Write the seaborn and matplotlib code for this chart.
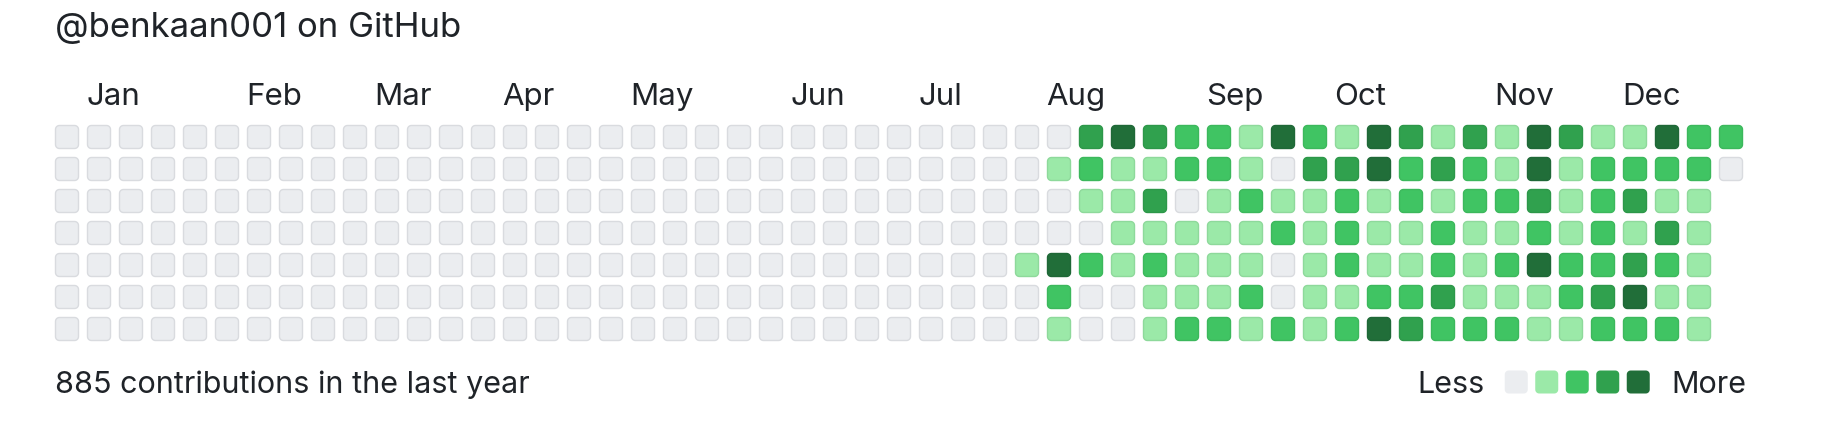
import numpy as np
import pandas as pd
import matplotlib
matplotlib.use("Agg")
import matplotlib.pyplot as plt
from matplotlib.path import Path
import seaborn as sns

# contribution levels (0-4), one list per weekday row, 53 weeks; weeks 0-29 are empty
row_sun = [0] * 30 + [0, 0, 3, 4, 3, 2, 2, 1, 4, 2, 1, 4, 3, 1, 3, 1, 4, 3, 1, 1, 4, 2, 2]
row_mon = [0] * 30 + [0, 1, 2, 1, 1, 2, 2, 1, 0, 3, 3, 4, 2, 3, 2, 1, 4, 1, 2, 2, 2, 2, 0]
row_tue = [0] * 30 + [0, 0, 1, 1, 3, 0, 1, 2, 1, 1, 2, 1, 2, 1, 2, 2, 3, 1, 2, 3, 1, 1]
row_wed = [0] * 30 + [0, 0, 0, 1, 1, 1, 1, 1, 2, 1, 2, 1, 1, 2, 1, 1, 2, 1, 2, 1, 3, 1]
row_thu = [0] * 30 + [1, 4, 2, 1, 2, 1, 1, 1, 0, 1, 2, 1, 1, 2, 1, 2, 4, 2, 2, 3, 2, 1]
row_fri = [0] * 30 + [0, 2, 0, 0, 1, 1, 1, 2, 0, 1, 1, 2, 2, 3, 1, 1, 1, 2, 3, 4, 1, 1]
row_sat = [0] * 30 + [0, 1, 0, 0, 1, 2, 2, 1, 2, 1, 2, 4, 3, 2, 2, 2, 1, 1, 2, 2, 2, 1]
rows = [row_sun, row_mon, row_tue, row_wed, row_thu, row_fri, row_sat]

months = ["Jan", "Feb", "Mar", "Apr", "May", "Jun", "Jul", "Aug", "Sep", "Oct", "Nov", "Dec"]
month_weeks = [1, 6, 10, 14, 18, 23, 27, 31, 36, 40, 45, 49]

title = "@benkaan001 on GitHub"
footer = "885 contributions in the last year"

colors = ["#ebedf0", "#9be9a8", "#40c463", "#30a14e", "#216e39"]
edges = ["#d9dbdf", "#8ed99b", "#3cb85c", "#2d9749", "#1f6837"]

records = []
for day, r in enumerate(rows):
    for week, lvl in enumerate(r):
        records.append({"week": week, "day": day, "level": lvl})
df = pd.DataFrame(records)

# rounded square marker
def rounded_square(r=0.17, n=8):
    pts = []
    h = 0.5
    for cx, cy, a0 in [(h - r, h - r, 0), (-h + r, h - r, 90), (-h + r, -h + r, 180), (h - r, -h + r, 270)]:
        for t in np.linspace(a0, a0 + 90, n):
            pts.append((cx + r * np.cos(np.radians(t)), cy + r * np.sin(np.radians(t))))
    pts.append(pts[0])
    return Path(pts, closed=True)

marker = rounded_square()

sns.set_theme(style="white")
plt.rcParams["font.family"] = ["Inter", "DejaVu Sans"]
txt = "#1f2328"

W, H = 1830, 432
fig = plt.figure(figsize=(W / 100, H / 100), dpi=100)

# grid axes: cell pitch 32 px, first centre at (67, 137)
x0, x1 = 51, 1747
y0, y1 = 121, 345
ax = fig.add_axes([x0 / W, 1 - y1 / H, (x1 - x0) / W, (y1 - y0) / H])
side = 23 * 0.72
sns.scatterplot(data=df, x="week", y="day", hue="level",
                palette={i: c for i, c in enumerate(colors)},
                marker=marker, s=side ** 2,
                edgecolor=[edges[l] for l in df["level"]], linewidth=1.0,
                legend=False, ax=ax)
ax.set_xlim(-0.5, 52.5)
ax.set_ylim(6.5, -0.5)
ax.set_axis_off()

for m, wk in zip(months, month_weeks):
    ax.text(wk - 0.4, -1.0, m, fontsize=22.5, color=txt, ha="left", va="baseline", clip_on=False)

fig.text(55 / W, 1 - 37 / H, title, fontsize=25, color=txt, ha="left", va="baseline")
fig.text(55 / W, 1 - 393 / H, footer, fontsize=22, color=txt, ha="left", va="baseline")

# legend
lx0, pitch = 1501, 30.5
lax = fig.add_axes([lx0 / W, 1 - (382 + pitch / 2) / H, 5 * pitch / W, pitch / H])
leg = pd.DataFrame({"pos": range(5), "y": [0] * 5, "level": range(5)})
sns.scatterplot(data=leg, x="pos", y="y", hue="level",
                palette={i: c for i, c in enumerate(colors)},
                marker=marker, s=side ** 2, edgecolor="none", linewidth=0,
                legend=False, ax=lax)
lax.set_xlim(-0.5, 4.5)
lax.set_ylim(-0.5, 0.5)
lax.set_axis_off()
lax.text(-0.5 - 0.55, 0, "Less", transform=lax.transData, fontsize=22, color=txt,
         ha="right", va="center_baseline", clip_on=False)
lax.text(4.5 + 0.6, 0, "More", transform=lax.transData, fontsize=22, color=txt,
         ha="left", va="center_baseline", clip_on=False)

fig.savefig("out.png", dpi=100, facecolor="white")
